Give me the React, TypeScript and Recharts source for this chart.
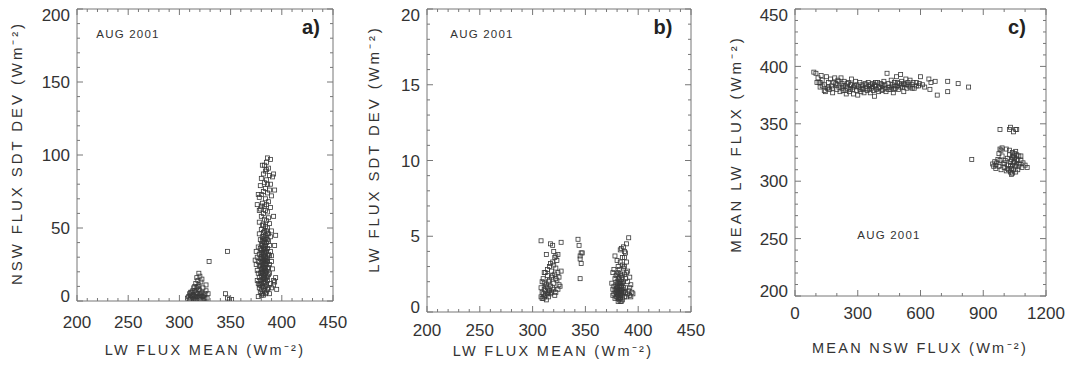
import { ScatterChart, Scatter, XAxis, YAxis, Label } from "recharts";

const FONT = '"Liberation Sans", Arial, sans-serif';
const INK = "#333";
const FRAME = "#777";

// panel a: LW flux mean vs NSW flux std dev
const aWarm: [number, number][] = [
  [386,98],[389,97],[385,95],[383,93],[381,93],[387,91],[384,89],[382,87],[388,86],[391,85],[380,84],[385,83],
  [383,81],[386,80],[379,79],[384,77],[388,76],[393,76],[382,75],[386,74],[380,73],[390,72],[378,71],[384,70],
  [387,68],[381,67],[385,66],[383,65],[389,64],[379,63],[384,62],[386,61],[382,60],[380,58],[387,57],[383,56],
  [385,55],[378,54],[388,53],[381,52],[384,51],[386,50],[380,49],[383,48],[385,48],[382,47],[378,46],[387,46],
  [384,45],[389,44],[381,44],[394,45],[383,43],[379,42],[386,42],[382,41],[385,40],[380,39],[384,38],[388,38],
  [377,37],[382,37],[386,36],[383,35],[380,35],[385,34],[381,33],[384,33],[378,32],[387,32],[382,31],[383,30],
  [386,30],[380,30],[390,31],[379,29],[381,29],[384,28],[382,28],[386,27],[377,27],[383,26],[380,26],[385,25],
  [388,25],[381,24],[378,24],[384,23],[382,23],[386,22],[380,22],[383,21],[376,21],[385,20],[381,20],[379,19],
  [384,19],[387,18],[382,18],[380,17],[383,17],[378,16],[385,16],[381,15],[384,15],[386,14],[379,14],[382,13],
  [392,14],[394,16],[380,12],[383,12],[385,11],[378,11],[381,10],[384,10],[387,9],[382,9],[380,8],[383,7],
  [379,6],[385,6],[381,5],[384,5],[377,3],[382,4],[395,8],[393,13],[391,22],[390,27],[376,30],[375,25],
  [377,19],[389,12],[388,19],[386,8],[380,4],[382,35],[383,33],[381,27],[384,26],[382,25],[383,22],[381,19],
  [383,15],[382,20],[384,30],[380,33],[385,29],[381,38],[383,40],[382,44],[384,36],[378,62],[376,66],[377,73],
  [392,58],[390,48],[393,38],[375,34],[374,28],[376,14],[390,9],[392,11],[389,34],[387,41],[379,36],[378,9],
  [388,5],[386,46],[380,65],[389,80],[392,87],[385,90],[379,24],[387,23],[388,31],[377,12],[386,17],[379,11],
  [382,32],[384,21],[381,22],[383,28],[382,16],[384,13],[380,19],[385,27],[383,37],[381,41],[384,42],[382,52],
];
const aCool: [number, number][] = [
  [309,3],[310,5],[311,2],[312,6],[313,4],[314,1],[315,7],[316,3],[317,5],[318,2],[319,8],[320,4],[321,1],
  [322,6],[323,3],[324,2],[325,5],[311,4],[313,7],[315,2],[317,9],[319,3],[321,5],[323,1],[312,1],[316,6],
  [318,10],[320,7],[314,4],[322,3],[310,1],[324,4],[316,12],[318,14],[319,11],[321,13],[317,16],[320,17],
  [322,15],[319,19],[315,10],[323,9],[326,11],[328,5],[327,2],[314,9],[312,3],[320,2],[318,5],[316,1],
  [329,27],[347,34],[345,5],[347,2],[349,1],[351,1],[308,2],[311,6],[313,2],[317,3],[325,2],[326,7],
];

// panel b: LW flux mean vs LW flux std dev
const bCool: [number, number][] = [
  [308,1.0],[309,1.3],[310,0.9],[311,1.5],[312,1.1],[313,1.8],[314,1.2],[315,2.0],[316,1.4],[317,1.7],
  [318,2.3],[319,1.6],[320,1.9],[321,2.5],[322,1.3],[323,2.1],[324,1.5],[325,1.8],[310,2.2],[312,2.6],
  [314,2.8],[316,3.0],[318,2.7],[320,3.1],[322,2.9],[313,0.8],[311,1.9],[315,1.0],[317,1.2],[319,2.4],
  [321,1.1],[309,2.0],[308,1.6],[312,1.7],[314,2.4],[316,2.1],[318,1.3],[320,1.5],[322,2.2],[324,2.6],
  [326,1.7],[327,2.7],[325,2.3],[319,3.3],[321,3.6],[323,3.4],[317,3.2],[320,4.0],[308,4.7],[313,3.8],
  [317,4.5],[319,4.4],[322,3.7],[324,3.8],[327,4.6],[343,4.8],[344,4.4],[345,3.7],[346,3.9],[347,3.9],
  [345,3.5],[346,3.2],[345,2.2],[309,0.9],[311,1.0],[312,1.4],[310,1.2],[314,1.6],[315,1.3],[311,2.6],
];
const bWarm: [number, number][] = [
  [376,1.5],[377,1.2],[378,0.9],[379,1.8],[380,1.0],[381,2.2],[382,0.8],[383,1.4],[384,1.1],[385,1.9],
  [386,1.3],[387,2.5],[388,1.6],[389,1.0],[390,2.0],[391,1.4],[392,1.1],[393,1.8],[394,1.3],[379,1.3],
  [380,1.7],[381,1.1],[382,1.5],[383,2.0],[384,1.7],[385,1.2],[380,2.5],[382,2.8],[384,2.4],[386,2.9],
  [381,3.0],[383,3.3],[385,3.1],[387,3.6],[388,3.9],[384,4.2],[386,4.3],[383,4.1],[389,4.5],[391,4.9],
  [378,3.7],[380,3.4],[385,3.6],[387,4.0],[389,3.3],[390,2.7],[392,2.3],[378,2.2],[376,2.6],[375,1.9],
  [377,2.8],[379,2.4],[381,1.9],[383,0.9],[385,0.8],[387,1.0],[381,0.7],[384,0.7],[382,1.2],[380,1.4],
  [383,1.7],[381,1.6],[382,2.1],[384,1.4],[383,1.2],[386,1.6],[388,2.2],[382,1.9],[381,2.6],[383,2.5],
  [380,2.0],[379,1.0],[385,2.3],[386,2.0],[380,1.2],[381,1.3],[382,1.0],[383,1.1],[384,1.3],[382,1.7],
  [381,1.4],[383,1.5],[380,1.6],[384,1.9],[382,2.3],[383,1.9],[379,1.5],[385,1.5],[381,0.9],[383,0.7],
  [393,1.0],[392,1.6],[395,1.2],[390,1.2],[388,1.3],[378,1.4],[377,1.7],[376,1.1],[387,3.0],[389,2.6],
];

// panel c: mean NSW flux vs mean LW flux
const cWarm: [number, number][] = [
  [90,395],[100,394],[110,390],[115,386],[120,382],[125,392],[130,388],[140,384],[145,378],[150,391],[160,386],
  [165,380],[170,389],[175,383],[180,377],[190,390],[195,385],[200,380],[205,388],[210,382],[215,378],[220,390],
  [225,385],[230,379],[235,387],[240,383],[245,376],[250,381],[255,386],[260,378],[265,384],[270,389],[275,380],
  [280,376],[285,383],[290,387],[295,379],[300,375],[305,382],[310,386],[315,378],[320,384],[325,380],[330,377],
  [335,385],[340,381],[345,379],[350,386],[355,383],[360,377],[365,381],[370,385],[375,379],[380,374],[385,383],
  [390,380],[395,386],[400,378],[405,382],[410,385],[415,379],[420,383],[425,387],[430,381],[435,378],[440,394],
  [445,385],[450,382],[455,380],[460,388],[465,384],[470,377],[475,386],[480,381],[485,391],[490,383],[495,380],
  [500,385],[505,393],[510,387],[515,382],[520,378],[525,384],[530,389],[535,381],[540,386],[545,383],[550,388],
  [560,384],[570,381],[580,386],[590,383],[600,391],[610,384],[620,382],[640,389],[645,380],[650,386],[670,387],
  [680,375],[730,387],[730,378],[780,385],[830,382],[130,383],[140,379],[155,381],[185,386],[200,384],[210,387],
  [225,381],[240,379],[250,385],[265,380],[280,382],[295,384],[310,380],[325,383],[340,384],[355,380],[370,382],
  [385,386],[400,381],[415,384],[430,384],[445,380],[460,382],[475,383],[490,386],[505,382],[520,385],[535,384],
  [550,382],[565,386],[580,383],[595,385],[105,386],[120,386],[160,382],[180,381],[230,383],[270,384],[320,381],
  [360,384],[380,384],[420,380],[470,380],[510,384],[560,381],
];
const cCool: [number, number][] = [
  [945,315],[950,313],[955,317],[960,311],[965,316],[970,319],[975,313],[980,318],[985,310],[990,322],[995,315],
  [1000,312],[1005,318],[1010,309],[1015,320],[1020,314],[1025,323],[1030,317],[1035,311],[1040,321],[1045,316],
  [1050,324],[1055,313],[1060,319],[1065,310],[1070,322],[1075,315],[1080,318],[1085,312],[1090,316],[1100,314],
  [1110,312],[1020,310],[1030,308],[1040,307],[1045,310],[1035,319],[1040,325],[1045,322],[1050,320],[1055,326],
  [1060,323],[1050,317],[1040,314],[1030,313],[1025,327],[1010,328],[990,329],[980,328],[975,324],[985,327],
  [1060,315],[1070,313],[1065,318],[1080,322],[1055,308],[1035,306],[1015,311],[960,314],[1000,316],
  [845,319],[980,345],[1025,345],[1030,347],[1045,343],[1055,345],[1060,345],
];

const lwMajors = [200, 250, 300, 350, 400, 450];
const nswSdMajors = [0, 50, 100, 150, 200];
const lwSdMajors = [0, 5, 10, 15, 20];
const nswMajors = [0, 300, 600, 900, 1200];
const meanLwMajors = [200, 250, 300, 350, 400, 450];

const withMinor = (majors: number[], step: number) => {
  const out: number[] = [];
  for (let v = majors[0]; v <= majors[majors.length - 1] + 1e-9; v += step) out.push(Math.round(v * 100) / 100);
  return out;
};

const Square = (p: any) => (
  <rect x={p.cx - 2} y={p.cy - 2} width={4} height={4} fill="none" stroke="#3a3a3a" strokeWidth={0.8} />
);
const Nothing = () => <g />;

const tickText = { fontFamily: FONT, fontSize: 17, fill: INK };
const xTitleText = { fontFamily: FONT, fontSize: 14.5, fill: INK, letterSpacing: 2.3 };
const yTitleText = { fontFamily: FONT, fontSize: 15, fill: INK, letterSpacing: 2.9 };

type Cfg = {
  left: number;
  width: number;
  top: number;
  plotLeft: number;
  plotRight: number;
  plotBottom: number;
  xDomain: [number, number];
  yDomain: [number, number];
  xMajors: number[];
  yMajors: number[];
  xStep: number;
  yStep: number;
  xLabelDy: number;
  series: [number, number][][];
  xTitle: string;
  yTitle: string;
  xTitlePos: [number, number];
  yTitlePos: [number, number];
  tag: string;
  tagPos: [number, number];
  monthPos: [number, number];
};

function Panel({ c }: { c: Cfg }) {
  const H = 369;
  const xTicks = withMinor(c.xMajors, c.xStep);
  const yTicks = withMinor(c.yMajors, c.yStep);
  const isMajor = (list: number[], v: number) => list.some((m) => Math.abs(m - v) < 1e-6);
  const yMin = c.yMajors[0];
  const yMax = c.yMajors[c.yMajors.length - 1];

  const bottomTick = (p: any) => {
    const major = isMajor(c.xMajors, p.payload.value);
    return (
      <g>
        <line x1={p.x} x2={p.x} y1={p.y} y2={p.y - (major ? 6 : 3)} stroke={FRAME} strokeWidth={1} />
        {major && (
          <text x={p.x} y={p.y + c.xLabelDy} textAnchor="middle" {...tickText}>
            {p.payload.value}
          </text>
        )}
      </g>
    );
  };
  const topTick = (p: any) => {
    const major = isMajor(c.xMajors, p.payload.value);
    return <line x1={p.x} x2={p.x} y1={p.y} y2={p.y + (major ? 6 : 3)} stroke={FRAME} strokeWidth={1} />;
  };
  const leftTick = (p: any) => {
    const v = p.payload.value;
    const major = isMajor(c.yMajors, v);
    const shift = v === yMax ? 6 : v === yMin ? -5 : 0;
    return (
      <g>
        <line x1={p.x} x2={p.x + (major ? 6 : 3)} y1={p.y} y2={p.y} stroke={FRAME} strokeWidth={1} />
        {major && (
          <text x={p.x - 7} y={p.y + shift} dy="0.36em" textAnchor="end" {...tickText}>
            {v}
          </text>
        )}
      </g>
    );
  };
  const rightTick = (p: any) => {
    const major = isMajor(c.yMajors, p.payload.value);
    return <line x1={p.x} x2={p.x - (major ? 6 : 3)} y1={p.y} y2={p.y} stroke={FRAME} strokeWidth={1} />;
  };

  const overlay = () => (
    <g>
      <text x={c.tagPos[0]} y={c.tagPos[1]} textAnchor="middle" fontFamily={FONT} fontSize={20} fontWeight="bold" fill="#222">
        {c.tag}
      </text>
      <text x={c.monthPos[0]} y={c.monthPos[1]} textAnchor="middle" fontFamily={FONT} fontSize={11.5} letterSpacing={1.2} fill={INK}>
        AUG 2001
      </text>
      <text x={c.xTitlePos[0]} y={c.xTitlePos[1]} textAnchor="middle" {...xTitleText}>
        {c.xTitle}
      </text>
      <text
        x={c.yTitlePos[0]}
        y={c.yTitlePos[1]}
        textAnchor="middle"
        transform={`rotate(-90 ${c.yTitlePos[0]} ${c.yTitlePos[1]})`}
        {...yTitleText}
      >
        {c.yTitle}
      </text>
    </g>
  );

  // the top and right axes need 1px of room or Recharts skips drawing them
  return (
    <div style={{ position: "absolute", left: c.left, top: 0 }}>
      <ScatterChart
        width={c.width}
        height={H}
        margin={{ top: c.top - 1, right: c.width - c.plotRight - 1, bottom: 0, left: 0 }}
      >
        <XAxis
          xAxisId={0}
          dataKey="x"
          type="number"
          domain={c.xDomain}
          ticks={xTicks}
          interval={0}
          allowDataOverflow
          height={H - c.plotBottom}
          tickSize={0}
          tickMargin={0}
          tickLine={false}
          axisLine={{ stroke: FRAME }}
          tick={bottomTick}
        >
          <Label content={overlay} />
        </XAxis>
        <XAxis
          xAxisId="top"
          orientation="top"
          dataKey="x"
          type="number"
          domain={c.xDomain}
          ticks={xTicks}
          interval={0}
          allowDataOverflow
          height={1}
          tickSize={0}
          tickMargin={0}
          tickLine={false}
          axisLine={{ stroke: FRAME }}
          tick={topTick}
        />
        <YAxis
          yAxisId={0}
          dataKey="y"
          type="number"
          domain={c.yDomain}
          ticks={yTicks}
          interval={0}
          allowDataOverflow
          width={c.plotLeft}
          tickSize={0}
          tickMargin={0}
          tickLine={false}
          axisLine={{ stroke: FRAME }}
          tick={leftTick}
        />
        <YAxis
          yAxisId="right"
          orientation="right"
          dataKey="y"
          type="number"
          domain={c.yDomain}
          ticks={yTicks}
          interval={0}
          allowDataOverflow
          width={1}
          tickSize={0}
          tickMargin={0}
          tickLine={false}
          axisLine={{ stroke: FRAME }}
          tick={rightTick}
        />
        {c.series.map((s, i) => (
          <Scatter
            key={i}
            xAxisId={0}
            yAxisId={0}
            data={s.map(([x, y]) => ({ x, y }))}
            shape={Square}
            isAnimationActive={false}
          />
        ))}
        <Scatter
          xAxisId="top"
          yAxisId="right"
          data={c.series[0].map(([x, y]) => ({ x, y }))}
          shape={Nothing}
          isAnimationActive={false}
        />
      </ScatterChart>
    </div>
  );
}

const panels: Cfg[] = [
  {
    left: 0, width: 352, top: 9, plotLeft: 77, plotRight: 333, plotBottom: 301,
    xDomain: [200, 450], yDomain: [0, 200], xMajors: lwMajors, yMajors: nswSdMajors, xStep: 10, yStep: 10,
    xLabelDy: 27, series: [aWarm, aCool],
    xTitle: "LW FLUX MEAN (Wm⁻²)", yTitle: "NSW FLUX SDT DEV (Wm⁻²)",
    xTitlePos: [205, 355], yTitlePos: [22, 153], tag: "a)", tagPos: [311, 34], monthPos: [128, 38],
  },
  {
    left: 355, width: 352, top: 9, plotLeft: 72, plotRight: 336, plotBottom: 312,
    xDomain: [200, 450], yDomain: [0, 20], xMajors: lwMajors, yMajors: lwSdMajors, xStep: 10, yStep: 1,
    xLabelDy: 24, series: [bCool, bWarm],
    xTitle: "LW FLUX MEAN (Wm⁻²)", yTitle: "LW FLUX SDT DEV (Wm⁻²)",
    xTitlePos: [198, 356], yTitlePos: [24, 149], tag: "b)", tagPos: [308, 34], monthPos: [127, 38],
  },
  {
    left: 710, width: 360, top: 9, plotLeft: 85, plotRight: 336, plotBottom: 296,
    xDomain: [0, 1200], yDomain: [200, 450], xMajors: nswMajors, yMajors: meanLwMajors, xStep: 100, yStep: 10,
    xLabelDy: 23, series: [cWarm, cCool],
    xTitle: "MEAN NSW FLUX (Wm⁻²)", yTitle: "MEAN LW FLUX (Wm⁻²)",
    xTitlePos: [210, 353], yTitlePos: [31, 144], tag: "c)", tagPos: [307, 34], monthPos: [179, 239],
  },
];

export default function App() {
  return (
    <div style={{ position: "absolute", left: 0, top: 0, width: 1070, height: 369, background: "#fff" }}>
      {panels.map((p) => (
        <Panel key={p.tag} c={p} />
      ))}
    </div>
  );
}
